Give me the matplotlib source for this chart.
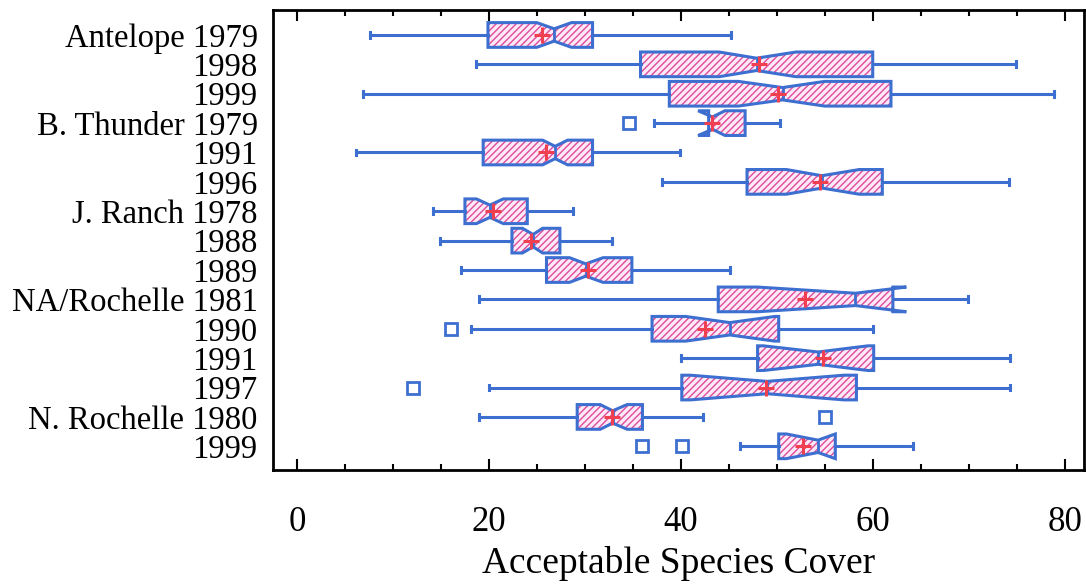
import matplotlib
matplotlib.use("Agg")
import matplotlib.pyplot as plt
from matplotlib.patches import PathPatch
from matplotlib.ticker import MultipleLocator

plt.rcParams['font.family'] = ['Liberation Serif', 'DejaVu Serif']
plt.rcParams['hatch.linewidth'] = 1.0

labels = ["Antelope 1979", "1998", "1999", "B. Thunder 1979", "1991", "1996",
          "J. Ranch 1978", "1988", "1989", "NA/Rochelle 1981", "1990", "1991",
          "1997", "N. Rochelle 1980", "1999"]

whislo = [7.6, 18.7, 6.9, 37.2, 6.1, 38.0, 14.2, 14.9, 17.1, 19.0, 18.1, 40.0, 20.0, 19.0, 46.2]
q1 = [19.9, 35.8, 38.8, 42.9, 19.4, 46.9, 17.5, 22.4, 26.0, 43.9, 37.0, 48.0, 40.1, 29.2, 50.2]
med = [26.8, 47.9, 50.6, 43.3, 26.9, 54.7, 20.1, 24.6, 30.1, 58.2, 45.1, 54.3, 49.0, 32.9, 54.3]
q3 = [30.8, 60.0, 61.9, 46.7, 30.8, 61.0, 24.0, 27.4, 34.9, 62.1, 50.2, 60.1, 58.3, 36.0, 56.1]
whishi = [45.2, 74.9, 78.9, 50.3, 39.9, 74.2, 28.8, 32.8, 45.1, 69.9, 60.0, 74.3, 74.3, 42.3, 64.2]
means = [25.5, 48.1, 50.1, 43.3, 26.0, 54.5, 20.4, 24.4, 30.3, 52.9, 42.5, 54.8, 48.9, 32.8, 52.7]
notch_lo = [25.0, 44.0, 46.0, 41.8, 25.6, 51.0, 18.7, 23.5, 28.4, 48.0, 40.5, 48.6, 41.0, 31.6, 51.0]
notch_hi = [28.6, 52.0, 55.0, 44.6, 28.2, 58.6, 21.5, 25.6, 31.9, 63.5, 49.8, 59.5, 57.0, 34.4, 56.1]
outliers = [[], [], [], [34.6], [], [], [], [], [], [], [16.0], [], [12.1], [55.0], [36.0, 40.1]]

blue = '#3d6fd0'
stats = []
for i in range(len(labels)):
    stats.append(dict(label=labels[i], whislo=whislo[i], q1=q1[i], med=med[i], q3=q3[i],
                      whishi=whishi[i], mean=means[i], cilo=notch_lo[i], cihi=notch_hi[i],
                      fliers=outliers[i]))

fig = plt.figure(figsize=(10.86, 5.88), dpi=100)
ax = fig.add_axes([0.2514, 0.201, 0.7466, 0.782])

pos = list(range(len(labels)))
bp = ax.bxp(stats, positions=pos, widths=0.84, orientation='horizontal',
            shownotches=True, showmeans=True, patch_artist=True, capwidths=0.2,
            boxprops=dict(facecolor='none', edgecolor=blue, linewidth=2.2),
            whiskerprops=dict(color=blue, linewidth=2.2),
            capprops=dict(color=blue, linewidth=2.2),
            medianprops=dict(color=blue, linewidth=2.0),
            meanprops=dict(marker='+', markeredgecolor='#f0404f', markersize=11, markeredgewidth=2.2),
            flierprops=dict(marker='s', markerfacecolor='white', markeredgecolor=blue,
                            markersize=8, markeredgewidth=2.0))

# pink hatched fill under each box outline
for b in bp['boxes']:
    fill = PathPatch(b.get_path(), facecolor='#fdeaf6', edgecolor='#e04a9c',
                     hatch='/////', linewidth=0, zorder=b.get_zorder() - 0.1)
    ax.add_patch(fill)

ax.set_xlim(-2.5, 82)
ax.set_ylim(14.8, -0.85)
ax.set_yticks(pos)
ax.set_yticklabels(labels, fontsize=23.5)
ax.tick_params(axis='y', length=0, pad=11)

ax.xaxis.set_major_locator(MultipleLocator(20))
ax.xaxis.set_minor_locator(MultipleLocator(5))
ax.tick_params(axis='x', which='both', direction='in', top=True, width=1.5)
ax.tick_params(axis='x', which='major', length=8, labelsize=25, pad=26)
ax.tick_params(axis='x', which='minor', length=4)

ax.set_xlabel('Acceptable Species Cover', fontsize=27, labelpad=5)
for s in ax.spines.values():
    s.set_linewidth(2)

fig.savefig('out.png', dpi=100)
